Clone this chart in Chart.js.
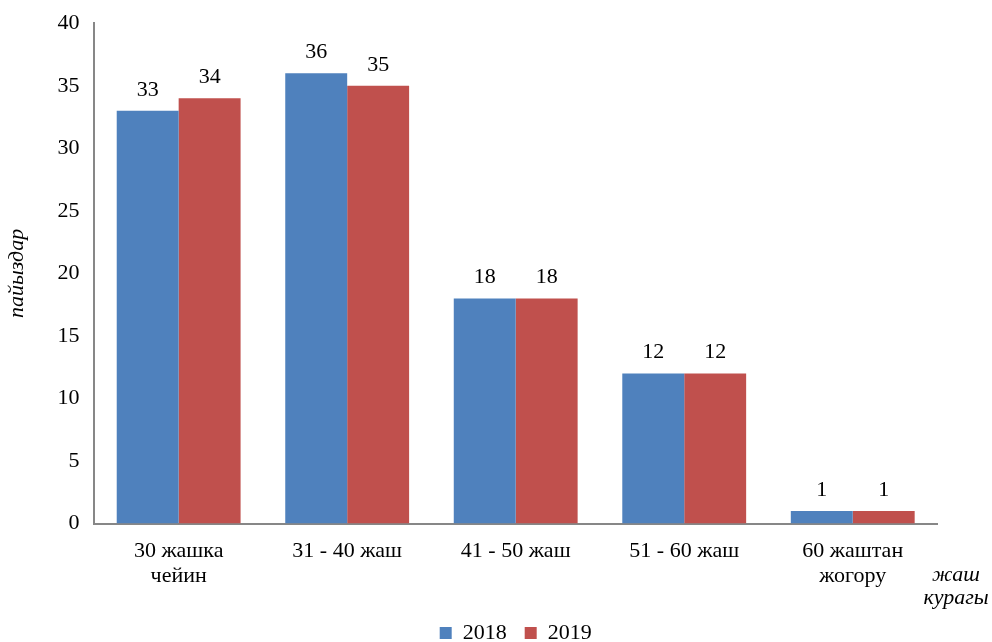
<!DOCTYPE html>
<html>
<head>
<meta charset="utf-8">
<script src="https://cdn.jsdelivr.net/npm/chart.js@4/dist/chart.umd.min.js"></script>
<style>
  html, body { margin: 0; padding: 0; background: #fff; }
  #wrap { width: 992px; height: 642px; }
</style>
</head>
<body>
<div id="wrap"><canvas id="ageChart" width="992" height="642"></canvas></div>
<script>
// категориялар жана маанилер
const categories = [['30 жашка', 'чейин'], '31 - 40 жаш', '41 - 50 жаш', '51 - 60 жаш', ['60 жаштан', 'жогору']];
const values2018 = [33, 36, 18, 12, 1];
const values2019 = [34, 35, 18, 12, 1];
const seriesNames = ['2018', '2019'];
const yTicks = [0, 5, 10, 15, 20, 25, 30, 35, 40];

const serif = '"Liberation Serif", "Times New Roman", serif';

// мамычалардын үстүнө маанилерди жазуу
const valueLabels = {
    id: 'valueLabels',
    afterDatasetsDraw(chart) {
        const ctx = chart.ctx;
        ctx.save();
        ctx.font = '22px ' + serif;
        ctx.fillStyle = '#000';
        ctx.textAlign = 'center';
        ctx.textBaseline = 'bottom';
        chart.data.datasets.forEach((ds, i) => {
            chart.getDatasetMeta(i).data.forEach((bar, j) => {
                ctx.fillText(ds.data[j], bar.x, bar.y - 10);
            });
        });
        ctx.restore();
    }
};

// х огунун аталышы оң жакта
const xTitle = {
    id: 'xTitle',
    afterDraw(chart) {
        const ctx = chart.ctx;
        const area = chart.chartArea;
        ctx.save();
        ctx.font = 'italic 22px ' + serif;
        ctx.fillStyle = '#000';
        ctx.textAlign = 'center';
        ctx.textBaseline = 'middle';
        ctx.fillText('жаш', area.right + 19, area.bottom + 52);
        ctx.fillText('курагы', area.right + 19, area.bottom + 75);
        ctx.restore();
    }
};

new Chart(document.getElementById('ageChart'), {
    type: 'bar',
    data: {
        labels: categories,
        datasets: [
            { label: seriesNames[0], data: values2018, backgroundColor: '#4F81BD' },
            { label: seriesNames[1], data: values2019, backgroundColor: '#C0504D' }
        ]
    },
    options: {
        responsive: false,
        animation: false,
        layout: { padding: { top: 8, right: 55, left: 0, bottom: -12 } },
        datasets: { bar: { categoryPercentage: 0.735, barPercentage: 1.0 } },
        plugins: {
            legend: {
                position: 'bottom',
                fullSize: false,
                labels: {
                    font: { family: serif, size: 22 },
                    color: '#000',
                    boxWidth: 12,
                    boxHeight: 12,
                    padding: 18
                }
            },
            tooltip: { enabled: false }
        },
        scales: {
            x: {
                grid: { display: false, drawTicks: false },
                border: { color: '#878787', width: 2 },
                ticks: {
                    font: { family: serif, size: 22, lineHeight: 1.1 },
                    color: '#000',
                    padding: 16,
                    maxRotation: 0
                }
            },
            y: {
                min: 0,
                max: 40,
                afterBuildTicks: axis => { axis.ticks = yTicks.map(v => ({ value: v })); },
                grid: { display: false, drawTicks: false },
                border: { color: '#878787', width: 2 },
                ticks: {
                    font: { family: serif, size: 22, lineHeight: 0.75 },
                    color: '#000',
                    padding: 15
                },
                title: {
                    display: true,
                    text: 'пайыздар',
                    font: { family: serif, size: 22, style: 'italic' },
                    color: '#000',
                    padding: { top: 4, bottom: 12 }
                }
            }
        }
    },
    plugins: [valueLabels, xTitle]
});
</script>
</body>
</html>
